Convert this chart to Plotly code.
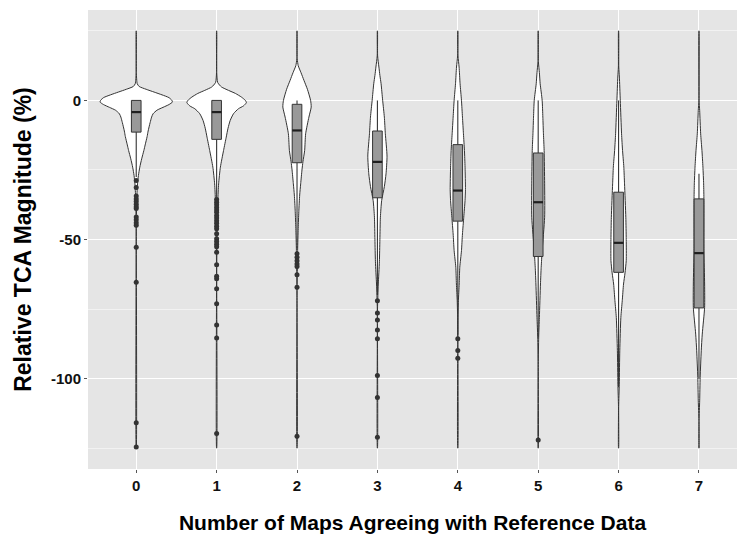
import plotly.graph_objects as go

# ---------------- data ----------------
categories = [0, 1, 2, 3, 4, 5, 6, 7]
tick_labels = ["0", "1", "2", "3", "4", "5", "6", "7"]

# box statistics (percent)
q3_vals = [0.0, 0.0, -1.4, -11.0, -15.9, -18.9, -33.0, -35.4]
median_vals = [-4.2, -4.2, -10.8, -22.1, -32.4, -36.6, -51.2, -54.9]
q1_vals = [-11.4, -14.0, -22.4, -35.0, -43.4, -56.1, -61.8, -74.6]
upper_whisker = [0.0, 0.0, 0.0, 0.0, 0.0, 0.0, 0.0, -26.4]
lower_whisker = [-27.5, -34.8, -53.5, -70.0, -84.2, -85.1, -103.1, -100.1]

# outliers per category
outliers_0 = [-28.8, -31.3, -34.4, -35.4, -36.3, -37.3, -38.2, -38.9, -41.9, -42.9,
              -44.0, -44.9, -52.8, -65.4, -115.9, -124.6]
outliers_1 = [-35.6, -36.6, -37.5, -38.5, -39.4, -40.2, -41.4, -42.3, -43.3, -44.2,
              -45.2, -46.1, -47.9, -49.7, -50.7, -51.7, -52.6, -54.6, -59.1, -63.2,
              -64.1, -67.7, -73.1, -80.7, -85.4, -119.7]
outliers_2 = [-55.1, -56.4, -57.6, -58.8, -59.7, -62.7, -67.2, -120.7]
outliers_3 = [-72.0, -76.4, -78.9, -82.5, -85.7, -98.9, -106.8, -121.1]
outliers_4 = [-85.7, -89.9, -92.7]
outliers_5 = [-122.1]
outliers_6 = []
outliers_7 = []

# violin density profiles: value levels and relative density (unnormalised)
vy_0 = [25, 10, 6, 5, 4, 3, 2, 1, 0, -0.6, -1.5, -2.5, -3.5, -4.8, -6, -8, -11, -13, -16,
        -18, -21, -24, -27, -30, -35, -45, -125]
vd_0 = [0.05, 0.1, 1, 3, 10, 18, 26, 33, 36, 36.5, 33, 27, 21, 17, 15.5, 14, 12, 11, 9,
        7.7, 5.5, 3.6, 2.2, 1.3, 0.6, 0.1, 0.05]
vy_1 = [25, 10, 6.5, 5.5, 4.8, 3.6, 2.5, 1.2, 0, -0.8, -2, -3, -4.8, -7.2, -10, -13.2, -18,
        -24, -30, -36, -45, -60, -125]
vd_1 = [0.05, 0.1, 1, 3, 5, 12, 19, 25, 29, 30, 27, 22, 17, 13.7, 11.5, 9.7, 7, 3.8, 2,
        1.2, 0.6, 0.1, 0.05]
vy_2 = [25, 15, 12.5, 10, 7.2, 4, 0, -2.4, -6, -12, -18, -22, -25, -30, -34, -40, -46,
        -54, -70, -125]
vd_2 = [0.05, 0.2, 1.2, 4, 7, 10.5, 13.7, 14.3, 12, 8.7, 7.7, 6, 5, 3.7, 2.7, 1.8, 1.2,
        0.6, 0.1, 0.05]
vy_3 = [25, 16, 12, 9, 6, 0, -6, -12, -20, -26.4, -31, -36, -42, -50, -58, -66, -75, -125]
vd_3 = [0.05, 0.2, 1.5, 2.5, 3.7, 5.3, 7, 8, 9.7, 8.7, 7, 4.3, 3, 2.5, 2, 0.9, 0.1, 0.05]
vy_4 = [25, 16, 12, 6, 0, -6, -12, -18, -24, -32, -36, -42, -48, -54, -60, -66, -72, -80,
        -125]
vd_4 = [0.05, 0.2, 1.3, 2.3, 3.7, 4.7, 5.7, 6.7, 7.3, 7.7, 7.3, 6, 4.7, 3.7, 2, 1.4, 0.6,
        0.1, 0.05]
vy_5 = [25, 14, 10, 6, 0, -6, -12, -18, -30, -42, -54, -60, -66, -78, -85, -95, -125]
vd_5 = [0.05, 0.2, 1.2, 2, 4, 4.7, 5.3, 6, 6.5, 6.5, 4, 3, 2.3, 1.2, 0.5, 0.1, 0.05]
vy_6 = [25, 12, 8.4, 0, -12, -18, -24, -30, -42, -50, -57.6, -62, -66, -72, -78, -90,
        -102, -110, -125]
vd_6 = [0.05, 0.2, 0.8, 1.7, 3, 4, 5.3, 6, 7.3, 7.7, 7.7, 6.5, 5, 3.7, 2.3, 1.2, 0.7, 0.1,
        0.05]
vy_7 = [25, 0, -3.6, -12, -18, -24, -30, -36, -54, -66, -74.4, -84, -90, -99.6, -108,
        -115, -125]
vd_7 = [0.05, 0.1, 0.7, 1.7, 3, 4, 4.7, 5, 5, 5.7, 5.7, 3.3, 2.3, 1.2, 0.7, 0.1, 0.05]

violin_y = [vy_0, vy_1, vy_2, vy_3, vy_4, vy_5, vy_6, vy_7]
violin_d = [vd_0, vd_1, vd_2, vd_3, vd_4, vd_5, vd_6, vd_7]
outliers = [outliers_0, outliers_1, outliers_2, outliers_3, outliers_4, outliers_5,
            outliers_6, outliers_7]

# ---------------- styling ----------------
VIOLIN_HALF = 0.45
BOX_W = 0.12
DARK = "#333333"
FONT = "Liberation Sans, Arial, sans-serif"

fig = go.Figure()

# violins
dmax = max(max(d) for d in violin_d)
for c, ys, ds in zip(categories, violin_y, violin_d):
    hw = [VIOLIN_HALF * d / dmax for d in ds]
    xs = [c + w for w in hw] + [c - w for w in reversed(hw)]
    yy = list(ys) + list(reversed(ys))
    xs.append(xs[0]); yy.append(yy[0])
    fig.add_trace(go.Scatter(x=xs, y=yy, mode="lines", fill="toself",
                             fillcolor="white",
                             line=dict(color=DARK, width=1.0, shape="spline", smoothing=0.6),
                             hoverinfo="skip", showlegend=False))

# boxplots (drawn as scatter so they sit above the violins)
half = BOX_W / 2
for c, lo, q1, md, q3, hi in zip(categories, lower_whisker, q1_vals, median_vals,
                                 q3_vals, upper_whisker):
    fig.add_trace(go.Scatter(x=[c, c, None, c, c], y=[lo, q1, None, q3, hi],
                             mode="lines", line=dict(color=DARK, width=1.1),
                             hoverinfo="skip", showlegend=False))
    fig.add_trace(go.Scatter(x=[c - half, c + half, c + half, c - half, c - half],
                             y=[q1, q1, q3, q3, q1], mode="lines", fill="toself",
                             fillcolor="#999999", line=dict(color=DARK, width=1),
                             hoverinfo="skip", showlegend=False))
    fig.add_trace(go.Scatter(x=[c - half, c + half], y=[md, md], mode="lines",
                             line=dict(color="#1f1f1f", width=2.2),
                             hoverinfo="skip", showlegend=False))

# outliers
for c, outs in zip(categories, outliers):
    if outs:
        fig.add_trace(go.Scatter(x=[c] * len(outs), y=outs, mode="markers",
                                 marker=dict(color=DARK, size=5),
                                 hoverinfo="skip", showlegend=False))

fig.update_layout(
    width=737, height=534,
    margin=dict(l=88, r=0, t=10, b=65, autoexpand=False),
    paper_bgcolor="white", plot_bgcolor="#E5E5E5",
    font=dict(family=FONT, color="#111111"),
)
fig.update_xaxes(
    range=[-0.6, 7.473], tickmode="array", tickvals=categories, ticktext=tick_labels,
    showgrid=True, gridcolor="white", gridwidth=1.2, zeroline=False, automargin=False,
    ticks="outside", ticklen=3, tickcolor="#555555", tickwidth=1,
    tickfont=dict(size=15, weight="bold", color="#111111"),
    title=dict(text="Number of Maps Agreeing with Reference Data",
               font=dict(size=21, weight="bold", color="#000000"), standoff=22),
)
fig.update_yaxes(
    range=[-132.5, 32.5], tickmode="array", tickvals=[0, -50, -100],
    ticktext=["0", "-50", "-100"],
    showgrid=True, gridcolor="white", gridwidth=1.2, zeroline=False, automargin=False,
    minor=dict(tickvals=[25, -25, -75, -125], showgrid=True, gridcolor="#F2F2F2",
               gridwidth=0.6, ticks=""),
    ticks="outside", ticklen=3, tickcolor="#555555", tickwidth=1,
    tickfont=dict(size=15, weight="bold", color="#111111"),
    title=dict(text="Relative TCA Magnitude (%)",
               font=dict(size=23, weight="bold", color="#000000"), standoff=12),
)

fig.write_html("out.html", config={"displayModeBar": False},
               post_script="document.body.style.margin='0';document.body.style.overflow='hidden';")
